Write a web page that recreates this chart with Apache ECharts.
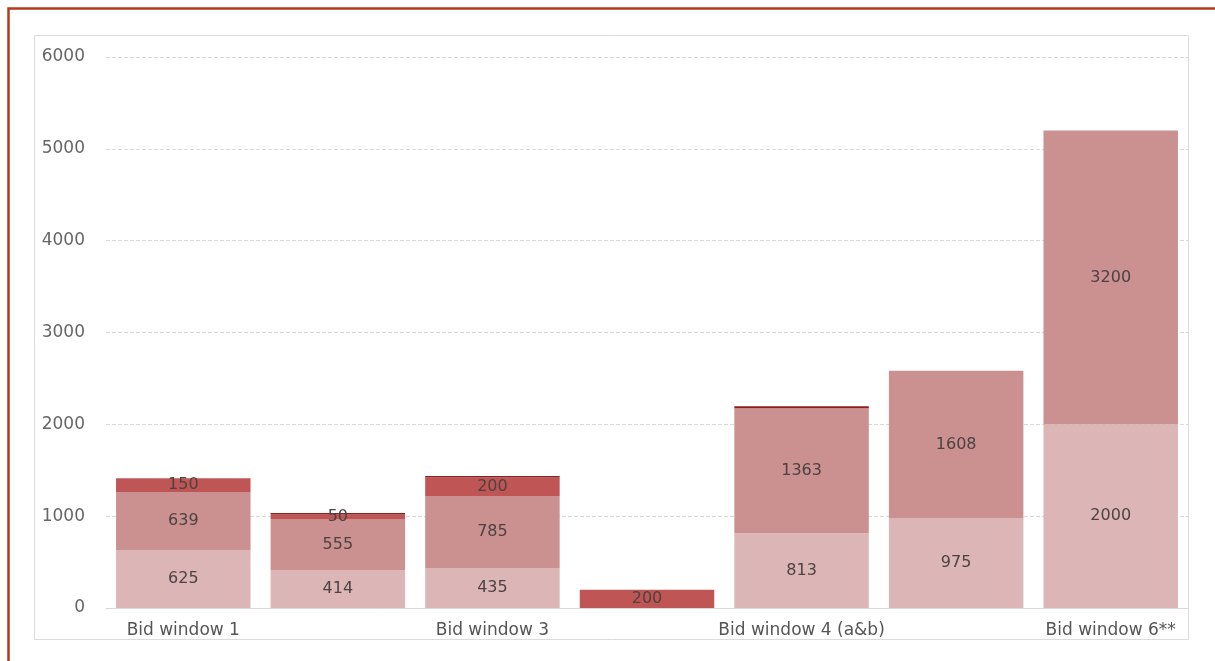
<!DOCTYPE html>
<html><head><meta charset="utf-8">
<script src="https://cdn.jsdelivr.net/npm/echarts@6/dist/echarts.min.js"></script>
<style>html,body{margin:0;padding:0;background:#fff}#c{width:1215px;height:661px}</style>
</head><body><div id="c"></div>
<script>
const categories = ["Bid window 1","Bid window 2","Bid window 3","Bid window 3.5","Bid window 4 (a&b)","Bid window 5","Bid window 6**"];
const seriesA = [625, 414, 435, null, 813, 975, 2000];
const seriesB = [639, 555, 785, null, 1363, 1608, 3200];
const seriesC = [150, 50, 200, 200, null, null, null];
const seriesD = [null, 15, 18, null, 20, null, null];
const yTicks = [0, 1000, 2000, 3000, 4000, 5000, 6000];

const font = "'DejaVu Sans', sans-serif";
const lbl = {show:true, position:'inside', color:'#4d4242', fontSize:16, fontFamily:font};
const chart = echarts.init(document.getElementById('c'), null, {renderer:'canvas'});
chart.setOption({
  animation:false,
  graphic:[
    {type:'rect', shape:{x:8.5,y:8.5,width:1230,height:700}, style:{fill:'none', stroke:'#b43a1e', lineWidth:2.5}, z:-10},
    {type:'rect', shape:{x:34.5,y:35.5,width:1154,height:604}, style:{fill:'none', stroke:'#dcdcdc', lineWidth:1}, z:-9}
  ],
  grid:{left:106, right:27, top:57, bottom:53},
  xAxis:{type:'category', data:categories,
    axisLine:{show:true, lineStyle:{color:'#d9d9d9'}}, axisTick:{show:false},
    axisLabel:{interval:1, color:'#555', fontSize:17, fontFamily:font, margin:14}},
  yAxis:{type:'value', min:yTicks[0], max:yTicks[yTicks.length-1], interval:1000,
    axisLine:{show:false}, axisTick:{show:false},
    splitLine:{lineStyle:{color:'#d9d9d9', type:'dashed'}},
    axisLabel:{color:'#666', fontSize:17, fontFamily:font, margin:21, formatter:v=>String(v)}},
  series:[
    {type:'bar', stack:'s', data:seriesA, barCategoryGap:'13%', itemStyle:{color:'#dcb6b6'}, label:lbl},
    {type:'bar', stack:'s', data:seriesB, itemStyle:{color:'#cb9090'}, label:lbl},
    {type:'bar', stack:'s', data:seriesC, itemStyle:{color:'#c05555'}, label:lbl},
    {type:'bar', stack:'s', data:seriesD, itemStyle:{color:'#8e1f1f'}, label:{show:false}}
  ]
});
</script></body></html>
